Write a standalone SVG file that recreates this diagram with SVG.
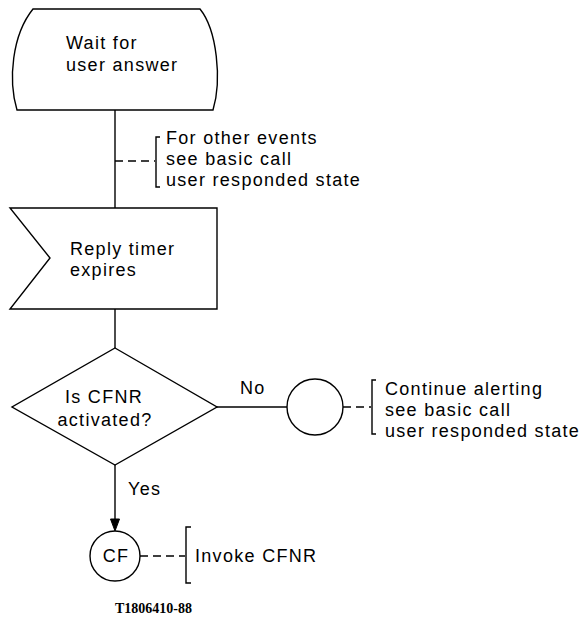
<svg xmlns="http://www.w3.org/2000/svg" width="582" height="623" viewBox="0 0 582 623">
<style>
.s{fill:none;stroke:#000;stroke-width:1.4}
.d{fill:none;stroke:#000;stroke-width:1.4;stroke-dasharray:8 5}
.t{font-family:"Liberation Sans",Arial,sans-serif;font-size:18px;letter-spacing:1.3px;fill:#000}
.c{text-anchor:middle}
</style>
<rect width="582" height="623" fill="#fff"/>
<g id="connectors">
<line class="s" x1="115" y1="110" x2="115" y2="208"/>
<line class="s" x1="115" y1="309" x2="115" y2="348"/>
<line class="s" x1="217" y1="407" x2="287" y2="407"/>
<line class="s" x1="115" y1="465" x2="115" y2="522"/>
<path d="M110.5,519 L119.5,519 L115,531 Z" fill="#000" stroke="#000" stroke-width="1"/>
<text class="t" x="240" y="394">No</text>
<text class="t" x="128" y="495">Yes</text>
</g>
<g id="state">
<path class="s" d="M33,9 L200,9 C217,30 222,80 213,110 L17,110 C8,80 12,35 33,9 Z"/>
<text class="t" x="66" y="49">Wait for</text>
<text class="t" x="66" y="71">user answer</text>
</g>
<g id="note1">
<line class="d" x1="115" y1="161" x2="155" y2="161"/>
<path class="s" d="M160,137 H156 V187 H160"/>
<text class="t" x="166" y="144">For other events</text>
<text class="t" x="166" y="165">see basic call</text>
<text class="t" x="166" y="186">user responded state</text>
</g>
<g id="signal">
<path class="s" d="M10,208 H217 V309 H10 L50,258 Z"/>
<text class="t" x="70" y="255">Reply timer</text>
<text class="t" x="70" y="276">expires</text>
</g>
<g id="decision">
<path class="s" d="M115,348 L217,407 L115,465 L12,407 Z"/>
<text class="t c" x="104" y="403">Is CFNR</text>
<text class="t c" x="105" y="426">activated?</text>
</g>
<g id="connector-no">
<circle class="s" cx="315" cy="407" r="28"/>
</g>
<g id="note2">
<line class="d" x1="343" y1="407" x2="371" y2="407"/>
<path class="s" d="M376,380 H372 V434 H376"/>
<text class="t" x="385" y="395">Continue alerting</text>
<text class="t" x="385" y="416">see basic call</text>
<text class="t" x="385" y="437">user responded state</text>
</g>
<g id="cf">
<circle class="s" cx="115" cy="556" r="25"/>
<text class="t c" x="116" y="562">CF</text>
</g>
<g id="note3">
<line class="d" x1="140" y1="556" x2="185" y2="556"/>
<path class="s" d="M191,527 H186 V583 H191"/>
<text class="t" x="195" y="562">Invoke CFNR</text>
</g>
<text x="115" y="613" font-family="'Liberation Serif','Times New Roman',serif" font-size="14" font-weight="bold">T1806410-88</text>
</svg>
